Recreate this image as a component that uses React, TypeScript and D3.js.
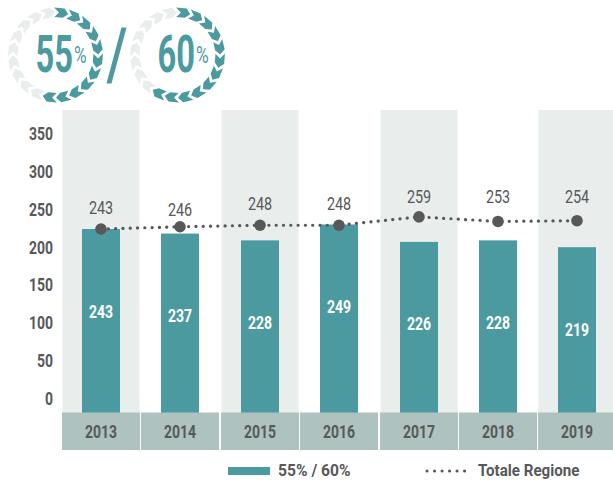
import React from "react";
import * as d3 from "d3";

const years = ["2013","2014","2015","2016","2017","2018","2019"];
const barValues = [243,237,228,249,226,228,219];
const lineValues = [243,246,248,248,259,253,254];
const lineLabelGap = [15,11,15,15,14,18,18];
const yTicks = [0,50,100,150,200,250,300,350];
const rings = [{big:"55",teal:11},{big:"60",teal:12}];
const SEGMENTS = 20;

const TEAL="#4b9a9f", BAND="#e9eeed", FOOT="#aec2bf", INK="#58585a", LIGHT="#e9eeed";
const FONT="Roboto,sans-serif";

const centers = [101,180,260,339,419,498,577];
const y = d3.scaleLinear().domain([0,350]).range([413,148]);

function T({x,y,children,size=17.5,weight=700,fill=INK,anchor="middle",sx=0.8}:any){
  return <text transform={`translate(${x},${y}) scale(${sx},1)`} textAnchor={anchor} fontFamily={FONT} fontWeight={weight} fontSize={size} fill={fill}>{children}</text>;
}

function chevron(cx:number,cy:number,a:number,da:number){
  const ro=47.5, ri=38, rm=42.7;
  const pt=(r:number,t:number)=>[cx+r*Math.sin(t),cy-r*Math.cos(t)];
  const h=da*0.5;
  const pts=[pt(ro,a-h),pt(ro,a+h*0.42),pt(rm,a+h*1.12),pt(ri,a+h*0.42),pt(ri,a-h),pt(rm,a-h*0.3)];
  return d3.line()(pts as [number,number][])+"Z";
}

function Ring({cx,cy,big,teal}:{cx:number,cy:number,big:string,teal:number}){
  const da=2*Math.PI/SEGMENTS;
  return <g>
    {d3.range(SEGMENTS).map(i=><path key={i} d={chevron(cx,cy,da*(i+0.5)-0.03,da)} fill={i<teal?TEAL:LIGHT}/>)}
    <T x={cx+17.5} y={cy+17} anchor="end" size={51} sx={0.64} fill={TEAL} weight={700}>{big}</T>
    <T x={cx+18.5} y={cy+8} anchor="start" size={24} sx={0.72} fill={TEAL} weight={400}>%</T>
  </g>;
}

export default function App(){
  const line=d3.line<number>().x((_,i)=>centers[i]).y(d=>y(d));
  return <svg width={613} height={484} style={{position:"absolute",left:0,top:0,background:"#fff"}}>
    {[0,2,4,6].map(i=><rect key={i} x={centers[i]-38.5} y={110} width={77} height={303} fill={BAND}/>)}
    {years.map((yr,i)=><rect key={yr} x={centers[i]-19} y={y(barValues[i])} width={38} height={413-y(barValues[i])} fill={TEAL}/>)}
    {years.map((yr,i)=><g key={yr}>
      <rect x={centers[i]-39} y={412.5} width={78} height={37.5} fill={FOOT}/>
      <T x={centers[i]} y={438} size={17.5}>{yr}</T>
    </g>)}
    {yTicks.map(t=><T key={t} x={53} y={y(t)-15+7} anchor="end">{t}</T>)}
    {years.map((yr,i)=><T key={yr} x={centers[i]} y={y(barValues[i])+88.5} fill="#fff">{barValues[i]}</T>)}
    <path d={line(lineValues)!} fill="none" stroke={INK} strokeWidth={3.2} strokeLinecap="round" strokeDasharray="0.1 7.2"/>
    {years.map((yr,i)=><g key={yr}>
      <circle cx={centers[i]} cy={y(lineValues[i])} r={5.8} fill={INK}/>
      <T x={centers[i]} y={y(lineValues[i])-lineLabelGap[i]} weight={400} size={18}>{lineValues[i]}</T>
    </g>)}
    <rect x={228} y={467} width={42} height={8} fill={TEAL}/>
    <T x={278} y={476} anchor="start" size={17} sx={0.92}>55% / 60%</T>
    <path d="M427,471H472" stroke={INK} strokeWidth={3} strokeLinecap="round" strokeDasharray="0.1 7.4"/>
    <T x={478} y={476} anchor="start" size={17} sx={0.89}>Totale Regione</T>
    {rings.map((r,i)=><Ring key={r.big} cx={i===0?55.5:177.5} cy={55} big={r.big} teal={r.teal}/>)}
    <path d="M121.5,27.5H126.5L111.5,83.5H106.5Z" fill={TEAL}/>
  </svg>;
}
